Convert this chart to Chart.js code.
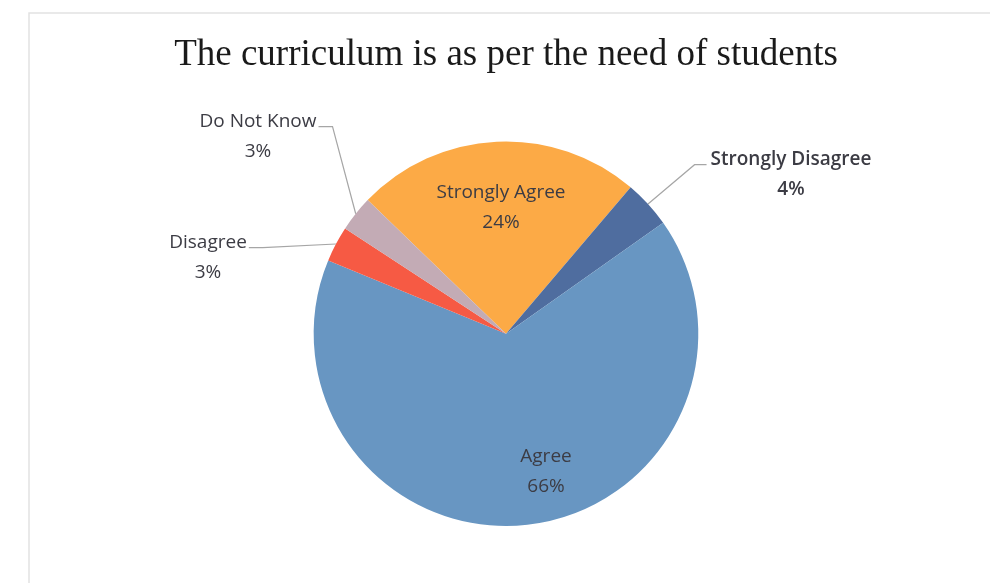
<!DOCTYPE html>
<html>
<head>
<meta charset="utf-8">
<script src="https://cdn.jsdelivr.net/npm/chart.js@4.4.1/dist/chart.umd.min.js"></script>
<style>
  html, body { margin: 0; padding: 0; background: #fff; }
  #wrap { width: 990px; height: 583px; position: relative; }
</style>
</head>
<body>
<div id="wrap"><canvas id="pie"></canvas></div>
<script>
// data, clockwise from the top-left
const categories = ['Strongly Agree', 'Strongly Disagree', 'Agree', 'Disagree', 'Do Not Know'];
const shares     = [24, 4, 66, 3, 3];
const colors     = ['#fcaa46', '#4f6d9f', '#6896c2', '#f65a44', '#c3abb5'];

// where each label sits, relative to pie centre (px); leader = draw a line to the slice
const labelPos = [
  { dx: -5,   dy: -141, leader: false },
  { dx: 285,  dy: -174, leader: true, side: 'right', bold: true },
  { dx: 40,   dy: 123,  leader: false },
  { dx: -298, dy: -91,  leader: true, side: 'left' },
  { dx: -248, dy: -212, leader: true, side: 'left' },
];

const frame = {
  id: 'frame',
  beforeDraw(chart) {
    const ctx = chart.ctx;
    ctx.save();
    ctx.strokeStyle = '#e2e2e2';
    ctx.lineWidth = 1.5;
    ctx.beginPath();
    ctx.moveTo(29, chart.height);
    ctx.lineTo(29, 13);
    ctx.lineTo(chart.width, 13);
    ctx.stroke();
    ctx.restore();
  },
};

const sliceLabels = {
  id: 'sliceLabels',
  afterDatasetsDraw(chart) {
    const ctx = chart.ctx;
    const meta = chart.getDatasetMeta(0);
    ctx.save();
    ctx.textAlign = 'center';
    ctx.textBaseline = 'middle';
    meta.data.forEach((arc, i) => {
      const p = labelPos[i];
      const lx = arc.x + p.dx, ly = arc.y + p.dy;
      ctx.font = (p.bold ? '600 ' : '500 ') + '19px "Open Sans"';
      ctx.fillStyle = '#3c3c44';
      ctx.fillText(categories[i], lx, ly);
      ctx.fillText(shares[i] + '%', lx, ly + 30);
      if (!p.leader) return;
      const w = ctx.measureText(categories[i]).width;
      const mid = (arc.startAngle + arc.endAngle) / 2;
      const ax = arc.x + Math.cos(mid) * arc.outerRadius;
      const ay = arc.y + Math.sin(mid) * arc.outerRadius;
      const sx = p.side === 'left' ? lx + w / 2 + 2 : lx - w / 2 - 4;
      const sy = ly + 5;
      const kx = p.side === 'left' ? sx + 14 : sx - 12;
      ctx.strokeStyle = '#a6a6a6';
      ctx.lineWidth = 1.2;
      ctx.beginPath();
      ctx.moveTo(sx, sy);
      ctx.lineTo(kx, sy);
      ctx.lineTo(ax, ay);
      ctx.stroke();
    });
    ctx.restore();
  },
};

new Chart(document.getElementById('pie'), {
  type: 'pie',
  data: {
    labels: categories,
    datasets: [{
      data: shares,
      backgroundColor: colors,
      borderWidth: 0,
    }],
  },
  plugins: [frame, sliceLabels],
  options: {
    responsive: true,
    maintainAspectRatio: false,
    animation: false,
    rotation: -46,
    layout: { padding: { top: 0, left: 121, right: 99, bottom: 57 } },
    plugins: {
      legend: { display: false },
      tooltip: { enabled: false },
      title: {
        display: true,
        text: 'The curriculum is as per the need of students',
        color: '#1a1a1a',
        font: { family: '"Liberation Serif"', size: 37, weight: 'normal', lineHeight: 1.2 },
        padding: { top: 33, bottom: 64 },
      },
    },
  },
});
</script>
</body>
</html>
